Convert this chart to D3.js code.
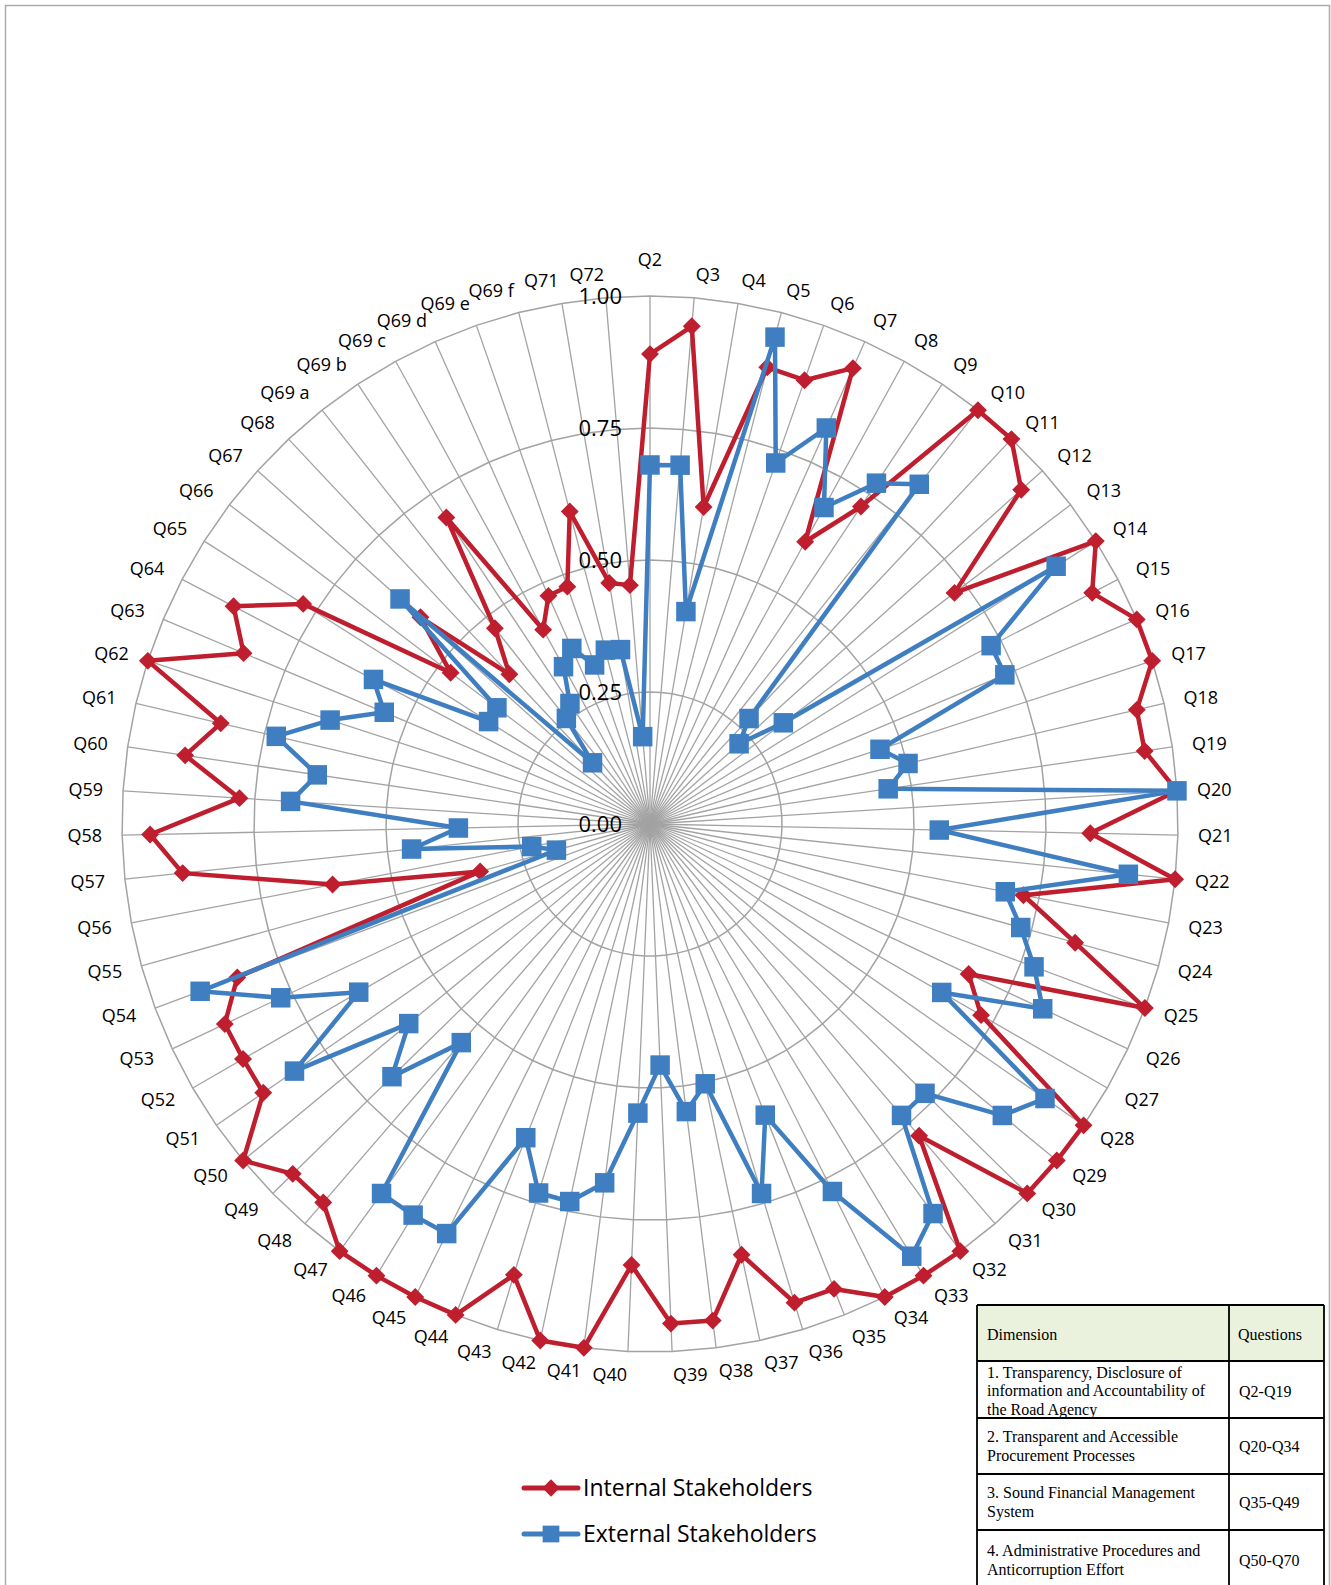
<!DOCTYPE html>
<html>
<head>
<meta charset="utf-8">
<script src="https://cdn.jsdelivr.net/npm/d3@7"></script>
<style>
  html, body { margin: 0; padding: 0; background: #fff; }
  svg { display: block; }
</style>
</head>
<body>
<svg id="chart" width="1331" height="1585"></svg>
<script>
const categories = ["Q2","Q3","Q4","Q5","Q6","Q7","Q8","Q9","Q10","Q11","Q12","Q13","Q14","Q15","Q16","Q17","Q18","Q19","Q20","Q21","Q22","Q23","Q24","Q25","Q26","Q27","Q28","Q29","Q30","Q31","Q32","Q33","Q34","Q35","Q36","Q37","Q38","Q39","Q40","Q41","Q42","Q43","Q44","Q45","Q46","Q47","Q48","Q49","Q50","Q51","Q52","Q53","Q54","Q55","Q56","Q57","Q58","Q59","Q60","Q61","Q62","Q63","Q64","Q65","Q66","Q67","Q68","Q69 a","Q69 b","Q69 c","Q69 d","Q69 e","Q69 f","Q71","Q72"];

const internalStakeholders = [0.890,0.946,0.609,0.893,0.890,0.945,0.610,0.722,1.000,1.000,0.946,0.724,1.000,0.945,1.000,1.000,0.947,0.947,1.000,0.834,1.000,0.720,0.836,1.000,0.667,0.724,1.000,1.000,1.000,0.780,1.000,1.000,1.000,0.947,0.947,0.834,0.948,0.947,0.836,1.000,1.000,0.892,1.000,1.000,1.000,1.000,0.947,0.947,1.000,0.892,0.890,0.890,0.834,0.334,0.612,0.890,0.947,0.779,0.890,0.835,1.000,0.835,0.890,0.778,0.474,0.585,0.389,0.473,0.697,0.420,0.473,0.476,0.611,0.463,0.454];

const externalStakeholders = [0.680,0.682,0.408,0.952,0.724,0.821,0.684,0.775,0.821,0.274,0.227,0.317,0.911,0.729,0.729,0.458,0.502,0.456,1.000,0.548,0.911,0.685,0.729,0.776,0.822,0.638,0.911,0.866,0.729,0.729,0.912,0.957,0.777,0.593,0.731,0.503,0.549,0.457,0.548,0.685,0.731,0.730,0.639,0.866,0.866,0.865,0.547,0.684,0.593,0.820,0.637,0.773,0.909,0.184,0.228,0.454,0.363,0.682,0.637,0.727,0.637,0.546,0.591,0.362,0.364,0.637,0.159,0.255,0.274,0.340,0.364,0.319,0.340,0.335,0.166];

const tickValues = [0, 0.25, 0.5, 0.75, 1.0];
const tickLabels = ["0.00", "0.25", "0.50", "0.75", "1.00"];

const seriesNames = ["Internal Stakeholders", "External Stakeholders"];

const tableHeader = ["Dimension", "Questions"];
const tableDimensions = [
  ["1. Transparency, Disclosure of", "information and Accountability of", "the Road Agency"],
  ["2. Transparent and Accessible", "Procurement Processes"],
  ["3. Sound Financial Management", "System"],
  ["4. Administrative Procedures and", "Anticorruption Effort"]
];
const tableQuestions = ["Q2-Q19", "Q20-Q34", "Q35-Q49", "Q50-Q70"];

// ---------- drawing ----------
const svg = d3.select("#chart");
const cx = 650, cy = 824, R = 528;
const red = "#BE1E2D", blue = "#3F7FC1", grid = "#A3A3A3";
const font = "'Open Sans', sans-serif";

svg.append("rect").attr("x", 5.5).attr("y", 5.5).attr("width", 1324).attr("height", 1600)
  .attr("fill", "#fff").attr("stroke", "#ABABAB").attr("stroke-width", 1.5);

const n = categories.length;
const angle = d3.scaleLinear().domain([0, n]).range([0, 2 * Math.PI]);
const r = d3.scaleLinear().domain([0, 1]).range([0, R]);

const g = svg.append("g").attr("transform", `translate(${cx},${cy})`);

// rings (polygons)
const ringLine = d3.lineRadial().curve(d3.curveLinearClosed);
tickValues.filter(v => v > 0).forEach(v => {
  g.append("path")
    .attr("d", ringLine(categories.map((c, i) => [angle(i), r(v)])))
    .attr("fill", "none").attr("stroke", grid).attr("stroke-width", 1.5);
});

// spokes
g.selectAll("line.spoke").data(categories).join("line")
  .attr("class", "spoke")
  .attr("x1", 0).attr("y1", 0)
  .attr("x2", (d, i) => r(1) * Math.sin(angle(i)))
  .attr("y2", (d, i) => -r(1) * Math.cos(angle(i)))
  .attr("stroke", grid).attr("stroke-width", 1.3);

// category labels
g.selectAll("text.cat").data(categories).join("text")
  .attr("class", "cat")
  .each(function(d, i) {
    const a = angle(i);
    const s = Math.sin(a), c = Math.cos(a);
    const rr = r(1) + 20;
    let x = rr * s, y = -rr * c - 3 * c;
    let anchor = s > 0.001 ? "start" : (s < -0.001 ? "end" : "middle");
    if (i === 0) { y = -R - 36; }
    d3.select(this).attr("x", x).attr("y", y).attr("dy", "0.35em")
      .attr("text-anchor", anchor);
  })
  .attr("font-family", font).attr("font-size", 18).attr("fill", "#000")
  .text(d => d);

// tick labels
g.selectAll("text.tick").data(tickValues).join("text")
  .attr("class", "tick")
  .attr("x", -28).attr("y", d => -r(d)).attr("dy", "0.35em")
  .attr("text-anchor", "end")
  .attr("font-family", font).attr("font-size", 22).attr("fill", "#000")
  .text((d, i) => tickLabels[i]);

// series
const line = d3.lineRadial().curve(d3.curveLinearClosed);
function drawSeries(values, color, shape) {
  const pts = values.map((v, i) => [angle(i), r(v)]);
  g.append("path").attr("d", line(pts))
    .attr("fill", "none").attr("stroke", color).attr("stroke-width", 4.5)
    .attr("stroke-linejoin", "round");
  const sym = d3.symbol().type(d3.symbolSquare).size(shape === "diamond" ? 160 : 380);
  g.selectAll(null).data(values).join("path")
    .attr("d", sym())
    .attr("transform", (v, i) => {
      const a = angle(i);
      const x = r(v) * Math.sin(a), y = -r(v) * Math.cos(a);
      return `translate(${x},${y})` + (shape === "diamond" ? " rotate(45)" : "");
    })
    .attr("fill", color);
}
drawSeries(internalStakeholders, red, "diamond");
drawSeries(externalStakeholders, blue, "square");

// legend
const legend = svg.append("g");
seriesNames.forEach((name, k) => {
  const y = 1488 + k * 46;
  const color = k === 0 ? red : blue;
  legend.append("line").attr("x1", 524).attr("x2", 578).attr("y1", y).attr("y2", y)
    .attr("stroke", color).attr("stroke-width", 5).attr("stroke-linecap", "round");
  legend.append("path")
    .attr("d", d3.symbol().type(d3.symbolSquare).size(k === 0 ? 150 : 280)())
    .attr("transform", `translate(551,${y})` + (k === 0 ? " rotate(45)" : ""))
    .attr("fill", color);
  legend.append("text").attr("x", 583).attr("y", y).attr("dy", "0.35em")
    .attr("font-family", font).attr("font-size", 23).attr("fill", "#000")
    .text(name);
});

// table
const tbl = svg.append("g");
const colX = [977, 1229, 1324];
const rowY = [1305, 1361, 1418, 1474, 1530, 1590];
tbl.append("rect").attr("x", colX[0]).attr("y", rowY[0]).attr("width", colX[2] - colX[0])
  .attr("height", rowY[1] - rowY[0]).attr("fill", "#EAF1DD");
tbl.append("rect").attr("x", colX[0]).attr("y", rowY[1]).attr("width", colX[2] - colX[0])
  .attr("height", rowY[5] - rowY[1]).attr("fill", "#fff");
rowY.forEach(y => tbl.append("line").attr("x1", colX[0]).attr("x2", colX[2]).attr("y1", y).attr("y2", y)
  .attr("stroke", "#000").attr("stroke-width", 1.8));
colX.forEach(x => tbl.append("line").attr("x1", x).attr("x2", x).attr("y1", rowY[0]).attr("y2", rowY[5])
  .attr("stroke", "#000").attr("stroke-width", 1.8));
const serif = "'Liberation Serif', 'Times New Roman', serif";
tbl.append("text").attr("x", colX[0] + 10).attr("y", (rowY[0] + rowY[1]) / 2 + 1).attr("dy", "0.35em")
  .attr("font-family", serif).attr("font-size", 16).text(tableHeader[0]);
tbl.append("text").attr("x", colX[1] + 9).attr("y", (rowY[0] + rowY[1]) / 2 + 1).attr("dy", "0.35em")
  .attr("font-family", serif).attr("font-size", 16).text(tableHeader[1]);
tableDimensions.forEach((lines, k) => {
  const top = rowY[k + 1];
  const mid = (rowY[k + 1] + rowY[k + 2]) / 2;
  const lh = 18.5;
  const startY = k === 0 ? top + 11 : (top + (rowY[k + 2] - top) / 2 - (lines.length - 1) * lh / 2);
  lines.forEach((t, j) => {
    tbl.append("text").attr("x", colX[0] + 10).attr("y", startY + j * lh).attr("dy", "0.35em")
      .attr("font-family", serif).attr("font-size", 16).text(t);
  });
  tbl.append("text").attr("x", colX[1] + 10).attr("y", k === 0 ? 1391 : mid).attr("dy", "0.35em")
    .attr("font-family", serif).attr("font-size", 16).text(tableQuestions[k]);
});
</script>
</body>
</html>
